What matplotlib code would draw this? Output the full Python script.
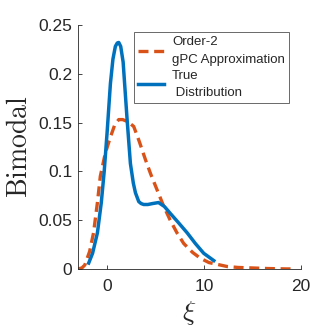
import matplotlib
matplotlib.use("Agg")
import matplotlib.pyplot as plt

# --- données ---
xi_true = [-1.9, -1.5, -1.0, -0.6, -0.3, 0.0, 0.34, 0.6, 0.85, 1.05, 1.2, 1.4, 1.65, 2.06, 2.4, 2.7,
           2.92, 3.26, 3.5, 3.77, 4.2, 4.7, 5.3, 5.9, 6.5, 7.3, 8.25, 9.1, 9.96, 11.0]
pdf_true = [0.006, 0.016, 0.037, 0.068, 0.100, 0.140, 0.190, 0.215, 0.228, 0.2315, 0.232, 0.228,
            0.212, 0.153, 0.108, 0.088, 0.078, 0.069, 0.067, 0.066, 0.066, 0.067, 0.068, 0.064,
            0.057, 0.048, 0.037, 0.026, 0.016, 0.0085]

xi_gpc = [-3.0, -2.6, -2.3, -1.8, -1.4, -1.0, -0.7, -0.2, 0.3, 0.8, 1.2, 1.6, 2.1, 2.74, 3.3, 3.95,
          4.5, 5.15, 5.8, 6.5, 7.2, 7.9, 8.8, 9.6, 10.5, 12.4, 13.5, 14.9, 16.5, 18.5, 19.0]
pdf_gpc = [0.0, 0.001, 0.004, 0.018, 0.037, 0.068, 0.095, 0.118, 0.134, 0.148, 0.153, 0.153, 0.151,
           0.146, 0.131, 0.112, 0.097, 0.081, 0.065, 0.050, 0.037, 0.026, 0.017, 0.011, 0.0065,
           0.0024, 0.0015, 0.001, 0.0004, 0.0, 0.0]

bleu = "#0072BD"
rouge = "#D95319"
gris = "#262626"

plt.rcParams["font.family"] = ["Liberation Sans", "DejaVu Sans"]
plt.rcParams["mathtext.fontset"] = "cm"

fig = plt.figure(figsize=(3.32, 3.32), dpi=100)
ax = fig.add_axes([0.235, 0.19, 0.672, 0.735])

ax.plot(xi_gpc, pdf_gpc, color=rouge, lw=2.4, ls=(0, (3.0, 1.7)),
        label="Order-2\ngPC Approximation")
ax.plot(xi_true, pdf_true, color=bleu, lw=2.5, label="True\n Distribution")

ax.set_xlim(-3, 20)
ax.set_ylim(0, 0.25)
ax.set_xticks([0, 10, 20])
ax.set_yticks([0, 0.05, 0.1, 0.15, 0.2, 0.25])
ax.set_yticklabels(["0", "0.05", "0.1", "0.15", "0.2", "0.25"])
ax.tick_params(direction="in", length=3, labelsize=12.5, colors=gris, width=0.6, pad=4)
ax.tick_params(axis="x", pad=7)

for c in ["top", "right"]:
    ax.spines[c].set_visible(False)
for c in ["left", "bottom"]:
    ax.spines[c].set_color(gris)
    ax.spines[c].set_linewidth(0.6)

ax.set_xlabel(r"$\xi$", fontsize=20, color=gris, labelpad=4)
ax.set_ylabel(r"$\mathrm{Bimodal}$", fontsize=20, color=gris, labelpad=4)

leg = ax.legend(loc="upper left", bbox_to_anchor=(0.25, 0.97), fontsize=9.5, frameon=True,
                fancybox=False, edgecolor=gris, handlelength=2.0, handletextpad=0.6,
                borderpad=0.3, labelspacing=0.3, borderaxespad=0)
leg.get_frame().set_linewidth(0.6)
for t in leg.get_texts():
    t.set_color(gris)
    t.set_linespacing(1.6)

fig.savefig("out.png", dpi=100)
